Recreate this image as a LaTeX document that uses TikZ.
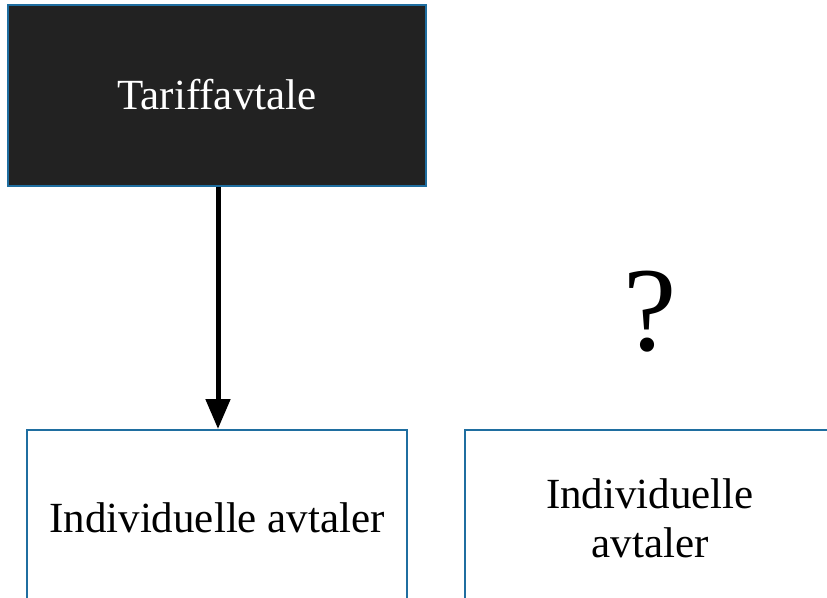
\documentclass[tikz,border=0pt]{standalone}
\usepackage{fontspec}
\setmainfont{Liberation Serif}
\usetikzlibrary{arrows.meta}
\definecolor{edgeblue}{RGB}{31,110,160}
\definecolor{darkfill}{RGB}{34,34,34}
\begin{document}
\begin{tikzpicture}[x=1pt,y=-1pt,
  box/.style={rectangle, draw=edgeblue, line width=2pt, inner sep=0pt,
    font=\fontsize{43}{49}\selectfont, align=center},
  link/.style={line width=5pt, -{Triangle[length=30pt,width=24pt]}}]
  \useasboundingbox (0,0) rectangle (827,597);
  % top: collective agreement
  \node[box, fill=darkfill, text=white, minimum width=418pt, minimum height=181pt,
    text depth=2pt] (tariff) at (217,95.5) {Tariffavtale};
  % bottom left: individual agreements (run off the lower edge)
  \node[box, fill=white, minimum width=380pt, minimum height=176pt]
    (indA) at (217,518) {Individuelle avtaler};
  % bottom right: individual agreements, open question
  \node[box, fill=white, minimum width=370pt, minimum height=176pt]
    (indB) at (650,518) {Individuelle\\avtaler};
  \node[font=\fontsize{120}{120}\selectfont, inner sep=0pt] (q) at (650,312) {?};
  \draw[link] (tariff.south -| 218,0) -- (indA.north -| 218,0);
\end{tikzpicture}
\end{document}
